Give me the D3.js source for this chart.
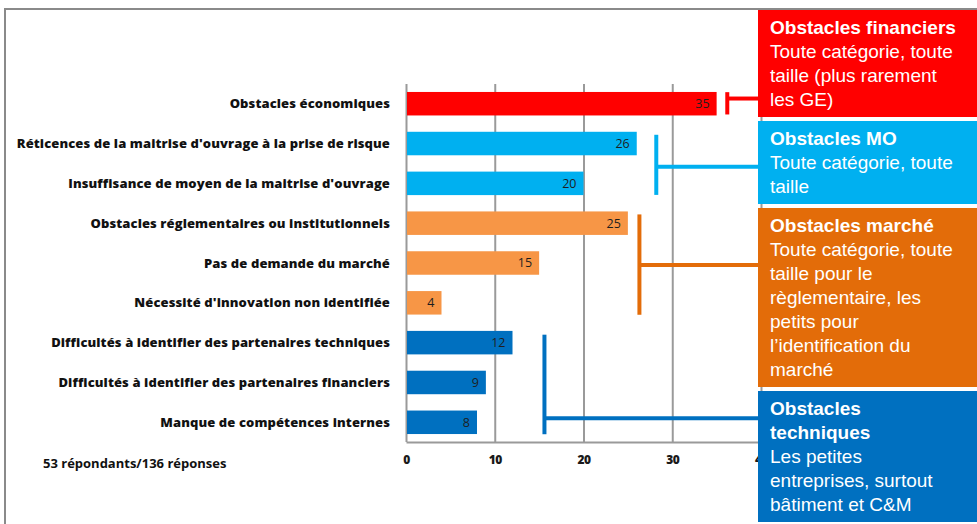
<!DOCTYPE html>
<html>
<head>
<meta charset="utf-8">
<script src="https://cdn.jsdelivr.net/npm/d3@7"></script>
<style>
  html, body { margin: 0; padding: 0; background: #fff; }
  svg { display: block; }
</style>
</head>
<body>
<svg id="chart" width="977" height="524"></svg>
<script>
// Obstacles cited by respondents (number of mentions)
const categories = [
  "Obstacles économiques",
  "Réticences de la maitrise d'ouvrage à la prise de risque",
  "Insuffisance de moyen de la maitrise d'ouvrage",
  "Obstacles réglementaires ou institutionnels",
  "Pas de demande du marché",
  "Nécessité d'innovation non identifiée",
  "Difficultés à identifier des partenaires techniques",
  "Difficultés à identifier des partenaires financiers",
  "Manque de compétences internes"
];
const values = [35, 26, 20, 25, 15, 4, 12, 9, 8];
const barGroup = ["fin", "mo", "mo", "mar", "mar", "mar", "tech", "tech", "tech"];
const xTicks = [0, 10, 20, 30, 40];
const footnote = "53 répondants/136 réponses";

// Thematic groups: bracket drawn at a value position, spanning category indices
const groupKeys = ["fin", "mo", "mar", "tech"];
const barColors = { fin: "#FF0000", mo: "#00B0F0", mar: "#F79646", tech: "#0070C0" };
const boxColors = { fin: "#FF0000", mo: "#00B0F0", mar: "#E36C09", tech: "#0070C0" };
const bracketAt = { fin: 36.2, mo: 28.2, mar: 26.3, tech: 15.6 };
const bracketFrom = { fin: -0.29, mo: 0.78, mar: 2.78, tech: 5.8 };
const bracketTo = { fin: 0.27, mo: 2.29, mar: 5.3, tech: 8.3 };
const bracketJoin = { fin: -0.13, mo: 1.58, mar: 4.05, tech: 7.9 };
const boxTitles = {
  fin: ["Obstacles financiers"],
  mo: ["Obstacles MO"],
  mar: ["Obstacles marché"],
  tech: ["Obstacles", "techniques"]
};
const boxBodies = {
  fin: ["Toute catégorie, toute", "taille (plus rarement", "les GE)"],
  mo: ["Toute catégorie, toute", "taille"],
  mar: ["Toute catégorie, toute", "taille pour le", "règlementaire, les", "petits pour", "l’identification du", "marché"],
  tech: ["Les petites", "entreprises, surtout", "bâtiment et C&M"]
};

const svg = d3.select("#chart");
const W = 977, H = 524;

// outer frame (top and left edges)
svg.append("path")
  .attr("d", `M5,${H} L5,9 L${W},9`)
  .attr("fill", "none").attr("stroke", "#8a8a8a").attr("stroke-width", 2);

const plot = { left: 406, right: 761, top: 84, bottom: 442 };

const x = d3.scaleLinear().domain([0, 40]).range([plot.left, plot.right]);
const y = d3.scaleBand().domain(d3.range(categories.length))
  .range([plot.top, plot.bottom]).paddingInner(0.41).paddingOuter(0.2);
// continuous index scale to place bracket ends between bars
const yIdx = d3.scaleLinear()
  .domain([0, categories.length - 1])
  .range([y(0) + y.bandwidth() / 2, y(categories.length - 1) + y.bandwidth() / 2]);

// vertical gridlines via axis ticks
const gAxis = svg.append("g").attr("transform", `translate(0,${plot.bottom})`)
  .call(d3.axisBottom(x).tickValues(xTicks).tickSize(-(plot.bottom - plot.top)).tickSizeOuter(0).tickFormat(d3.format("d")));
gAxis.select(".domain").attr("stroke", "#9a9a9a").attr("stroke-width", 2);
gAxis.selectAll(".tick line").attr("stroke", "#9a9a9a").attr("stroke-width", 2);
gAxis.selectAll(".tick text")
  .attr("y", 18).attr("dy", "0.32em")
  .attr("fill", "#1a1a1a")
  .style("font-family", "'Open Sans', Lato, sans-serif")
  .style("font-size", "12px").style("font-weight", "800")
  .style("letter-spacing", "-0.5px");

// bars
svg.append("g").selectAll("rect").data(values).join("rect")
  .attr("x", x(0) + 1)
  .attr("y", (d, i) => y(i))
  .attr("width", d => x(d) - x(0) - 1)
  .attr("height", y.bandwidth())
  .attr("fill", (d, i) => barColors[barGroup[i]]);

// value labels at the end of each bar
svg.append("g").selectAll("text").data(values).join("text")
  .attr("x", d => x(d) - 7)
  .attr("y", (d, i) => y(i) + y.bandwidth() / 2)
  .attr("dy", "0.35em")
  .attr("text-anchor", "end")
  .attr("fill", "#1e1e1e")
  .style("font-family", "'Open Sans', Lato, sans-serif")
  .style("font-size", "12.5px")
  .text(d => d);

// category labels
svg.append("g").selectAll("text").data(categories).join("text")
  .attr("x", 390)
  .attr("y", (d, i) => y(i) + y.bandwidth() / 2)
  .attr("dy", "0.35em")
  .attr("text-anchor", "end")
  .attr("fill", "#111")
  .style("font-family", "'Open Sans', sans-serif")
  .style("font-size", "13px").style("font-weight", "800")
  .style("letter-spacing", "0.1px")
  .text(d => d);

// footnote
svg.append("text")
  .attr("x", 43).attr("y", 463).attr("dy", "0.35em")
  .attr("fill", "#111")
  .style("font-family", "'Open Sans', sans-serif")
  .style("font-size", "13px").style("font-weight", "700")
  .text(footnote);

// group boxes on the right
const boxLeft = 758, lineH = 24, gap = 4;
let boxY = 10;
groupKeys.forEach(k => {
  const lines = boxTitles[k].length + boxBodies[k].length;
  const h = lines * lineH + 11;
  svg.append("rect").attr("x", boxLeft).attr("y", boxY).attr("width", W - boxLeft).attr("height", h)
    .attr("fill", boxColors[k]);
  const t = svg.append("text")
    .attr("fill", "#fff")
    .style("font-family", "'Liberation Sans', Arial, sans-serif")
    .style("font-size", "19px");
  boxTitles[k].concat(boxBodies[k]).forEach((line, i) => {
    t.append("tspan")
      .attr("x", 770).attr("y", boxY + 24 + i * lineH)
      .style("font-weight", i < boxTitles[k].length ? "700" : "400")
      .text(line);
  });
  boxY += h + gap;
});

// brackets linking bar groups to their boxes
const gB = svg.append("g");
groupKeys.forEach(k => {
  const bx = x(bracketAt[k]);
  gB.append("line")
    .attr("x1", bx).attr("x2", bx)
    .attr("y1", yIdx(bracketFrom[k])).attr("y2", yIdx(bracketTo[k]))
    .attr("stroke", boxColors[k]).attr("stroke-width", 4);
  gB.append("line")
    .attr("x1", bx).attr("x2", boxLeft)
    .attr("y1", yIdx(bracketJoin[k])).attr("y2", yIdx(bracketJoin[k]))
    .attr("stroke", boxColors[k]).attr("stroke-width", 4);
});
</script>
</body>
</html>
